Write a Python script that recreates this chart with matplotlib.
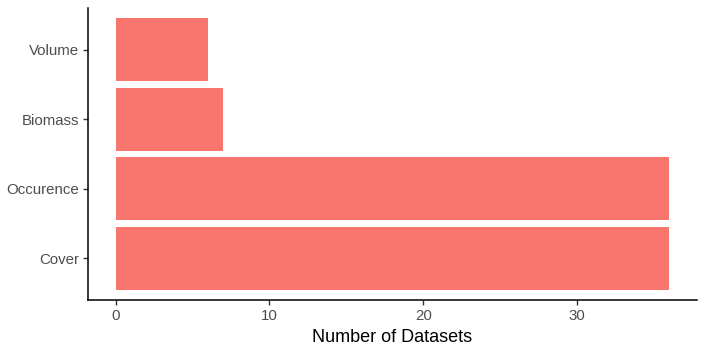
import numpy as np
import matplotlib
matplotlib.use("Agg")
import matplotlib.pyplot as plt

plt.rcParams['font.family'] = ['Liberation Sans', 'DejaVu Sans']

categories = ['Cover', 'Occurence', 'Biomass', 'Volume']
counts = [36, 36, 7, 6]
xticks = [0, 10, 20, 30]

fig = plt.figure(figsize=(7.07, 3.53), dpi=100)
ax = fig.add_axes([88/707, 53/353, (697-88)/707, (300-8)/353])

pos = np.arange(1, len(categories) + 1)
ax.barh(pos, counts, height=0.9, color='#F8766D')

ax.set_ylim(0.4, 4.6)
ax.set_xlim(-1.8, 37.8)
ax.set_yticks(pos)
ax.set_yticklabels(categories)
ax.set_xticks(xticks)
ax.tick_params(axis='both', colors='#333333', labelcolor='#4D4D4D',
               labelsize=10.8, length=3.5, width=1)
ax.tick_params(axis='x', pad=3)
ax.tick_params(axis='y', pad=3)

for s in ['top', 'right']:
    ax.spines[s].set_visible(False)
for s in ['left', 'bottom']:
    ax.spines[s].set_linewidth(1.1)
    ax.spines[s].set_color('black')

ax.set_xlabel('Number of Datasets', fontsize=13, color='black', labelpad=4)

fig.savefig('out.png', dpi=100)
